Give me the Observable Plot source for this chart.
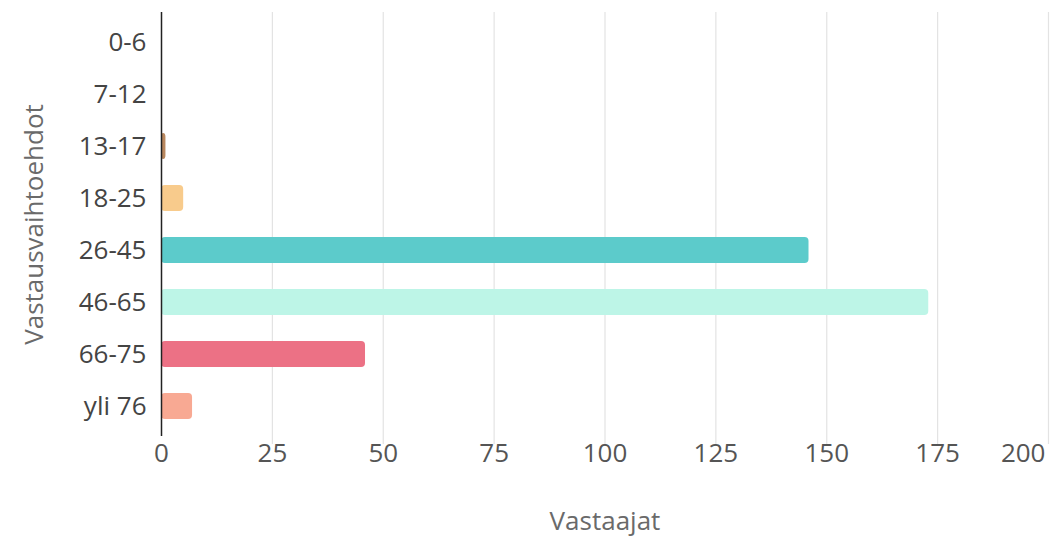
<!DOCTYPE html>
<html><head><meta charset="utf-8">
<script src="https://cdn.jsdelivr.net/npm/d3@7"></script>
<script src="https://cdn.jsdelivr.net/npm/@observablehq/plot@0.6"></script>
<style>body{margin:0;background:#fff}</style>
</head><body><div id="chart"></div>
<script>
const categories = ["0-6","7-12","13-17","18-25","26-45","46-65","66-75","yli 76"];
const values = [0,0,1,5,146,173,46,7];
const colors = ["#c9a27e","#c9a27e","#b8875e","#f8cb8c","#5ccbcb","#bdf5e7","#ec7185","#f8a993"];
const xTicks = [0,25,50,75,100,125,150,175,200];
const xTitle = "Vastaajat";
const yTitle = "Vastausvaihtoehdot";
const data = categories.map((c,i)=>({category:c, value:values[i], color:colors[i]}));
const chart = Plot.plot({
  width:1050, height:544, marginLeft:161, marginRight:2, marginTop:12, marginBottom:108,
  style:{fontFamily:"'Open Sans', sans-serif", fontSize:"26px", color:"#444", background:"#fff"},
  x:{domain:[0,200], label:null, axis:null},
  y:{domain:categories, paddingInner:0.5, paddingOuter:0.26, label:null, axis:null},
  marks:[
    Plot.ruleX(xTicks.slice(1), {stroke:"#e3e3e3", strokeWidth:1.2, insetBottom:-8}),
    Plot.barX(data, {x:"value", y:"category", fill:"color", rx:4}),
    Plot.ruleX([0], {stroke:"#222", strokeWidth:1.5}),
    Plot.axisY({tickSize:0, tickPadding:15, label:null, fill:"#444"}),
    Plot.text(xTicks.slice(0,-1), {x:d=>d, frameAnchor:"bottom", dy:25, text:d=>String(d), fill:"#555"}),
    Plot.text(xTicks.slice(-1), {x:d=>d, frameAnchor:"bottom", dy:25, text:d=>String(d), fill:"#555", textAnchor:"end", dx:-3}),
    Plot.text([xTitle], {frameAnchor:"bottom", dy:93, text:d=>d, fill:"#6a6a6a"}),
    Plot.text([yTitle], {frameAnchor:"left", dx:-127, rotate:-90, textAnchor:"middle", text:d=>d, fill:"#6a6a6a"})
  ]
});
document.getElementById("chart").append(chart);
</script>
</body></html>
